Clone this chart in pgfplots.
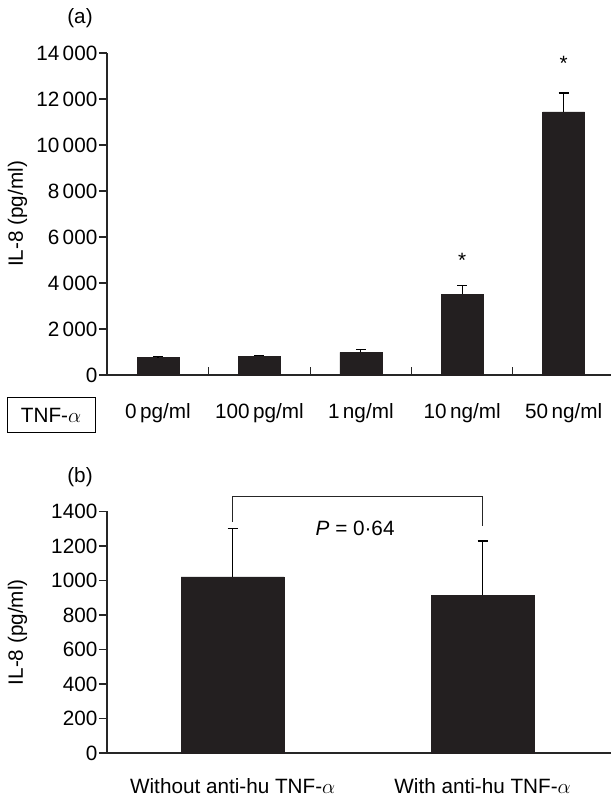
\documentclass[border=0pt]{standalone}
\usepackage{fontspec}
\setmainfont{Liberation Sans}
\usepackage{pgfplots}
\pgfplotsset{compat=1.18}
\definecolor{barc}{HTML}{231F20}
\pgfplotsset{
  mystyle/.style={
    scale only axis, axis lines*=left, enlargelimits=false, clip=false,
    axis line style={black!85, line width=1.1pt},
    tick style={black!85, line width=1.1pt},
    ymin=0, tick align=outside, major tick length=8pt,
    scaled y ticks=false,
    /pgf/number format/assume math mode=true,
    /pgf/number format/fixed,
    yticklabel style={inner xsep=0pt, xshift=-1.5pt},
    every axis y label/.style={at={(axis description cs:0,0.5)}, xshift=-89.5pt, rotate=90, anchor=center},
  }
}
\begin{document}
\fontsize{20.7}{24}\selectfont
\begin{tikzpicture}[font=\fontsize{20.7}{24}\selectfont]
\path[use as bounding box] (0,0) rectangle (611pt,797pt);
% Panel (a)
\begin{axis}[mystyle, at={(107pt,422pt)}, anchor=south west, width=504pt, height=322pt,
  xmin=-0.503, xmax=4.467, ymax=14000, ytick={0,2000,...,14000},
  /pgf/number format/1000 sep={\,},
  xtick={0,1,2,3,4},
  xticklabels={0\,pg/ml, 100\,pg/ml, 1\,ng/ml, 10\,ng/ml, 50\,ng/ml},
  every major x tick/.append style={draw=none},
  xticklabel style={anchor=center, yshift=-30pt},
  ylabel={IL-8 (pg/ml)}]
\addplot[ybar, bar width=42pt, fill=barc, draw=barc,
  error bars/.cd, y dir=plus, y explicit,
  error bar style={black, line width=1.1pt},
  error mark options={black, line width=1.1pt, mark size=5pt, rotate=90}]
  coordinates {(0,760) +- (0,30) (1,821) +- (0,43) (2,979) +- (0,144) (3,3500) +- (0,389) (4,11440) +- (0,820)};
\draw[black!85, line width=1.1pt] (axis cs:0.5,0) -- ([yshift=8pt]axis cs:0.5,0);
\draw[black!85, line width=1.1pt] (axis cs:1.5,0) -- ([yshift=8pt]axis cs:1.5,0);
\draw[black!85, line width=1.1pt] (axis cs:2.5,0) -- ([yshift=8pt]axis cs:2.5,0);
\draw[black!85, line width=1.1pt] (axis cs:3.5,0) -- ([yshift=8pt]axis cs:3.5,0);
\node at (axis cs:3,4969) {*};
\node at (axis cs:4,13565) {*};
\end{axis}
\node[draw, line width=1pt, minimum width=88pt, minimum height=35pt, inner sep=0pt] at (51pt,381.5pt) {TNF-$\alpha$};
\node at (80pt,779pt) {(a)};
% Panel (b)
\begin{axis}[mystyle, at={(107pt,44pt)}, anchor=south west, width=504pt, height=241.5pt,
  xmin=-0.503, xmax=1.514, ymax=1400, ytick={0,200,...,1400},
  /pgf/number format/1000 sep={},
  xtick={0,1},
  xticklabels={Without anti-hu TNF-$\alpha$, With anti-hu TNF-$\alpha$},
  every major x tick/.append style={draw=none},
  xticklabel style={anchor=center, yshift=-25pt},
  ylabel={IL-8 (pg/ml)}]
\addplot[ybar, bar width=103pt, fill=barc, draw=barc,
  error bars/.cd, y dir=plus, y explicit,
  error bar style={black, line width=1.1pt},
  error mark options={black, line width=1.1pt, mark size=5pt, rotate=90}]
  coordinates {(0,1021) +- (0,279) (1,915) +- (0,314)};
\addplot[black!85, line width=1.1pt, sharp plot, mark=none]
  coordinates {(0,1339) (0,1489) (1,1489) (1,1316)};
\node at (axis cs:0.49,1302) {\textit{P} = 0·64};
\end{axis}
\node at (80pt,320pt) {(b)};
\end{tikzpicture}
\end{document}
